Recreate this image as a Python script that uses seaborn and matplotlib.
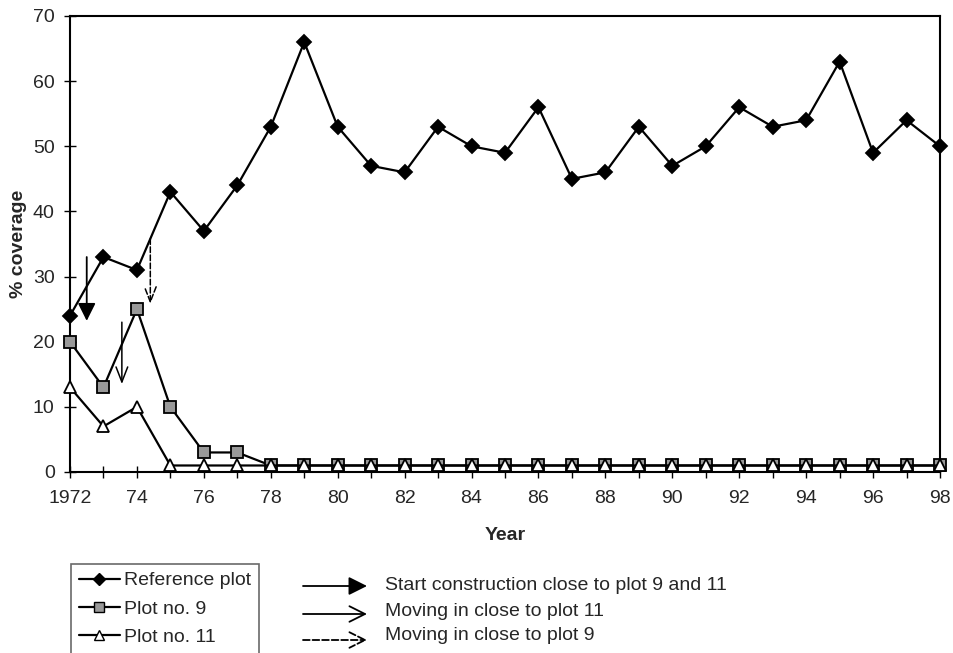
import matplotlib
matplotlib.use('Agg')
import matplotlib.pyplot as plt
from matplotlib.lines import Line2D
from matplotlib.patches import FancyArrowPatch
import seaborn as sns
import pandas as pd

sns.set_theme(style='ticks')
plt.rcParams['font.family'] = ['Liberation Sans', 'DejaVu Sans']

# ── Data ──────────────────────────────────────────────
years = list(range(1972, 1999))
reference_plot = [24, 33, 31, 43, 37, 44, 53, 66, 53, 47, 46, 53, 50, 49,
                  56, 45, 46, 53, 47, 50, 56, 53, 54, 63, 49, 54, 50]
plot_9 = [20, 13, 25, 10, 3, 3, 1, 1, 1, 1, 1, 1, 1, 1,
          1, 1, 1, 1, 1, 1, 1, 1, 1, 1, 1, 1, 1]
plot_11 = [13, 7, 10, 1, 1, 1, 1, 1, 1, 1, 1, 1, 1, 1,
           1, 1, 1, 1, 1, 1, 1, 1, 1, 1, 1, 1, 1]
x_labels = ['1972' if y == 1972 else (f'{y % 100:02d}' if y % 2 == 0 else '') for y in years]
y_ticks = [0, 10, 20, 30, 40, 50, 60, 70]

# events: (x start, y start, x end, y end)
start_construction = (1972.5, 33, 1972.5, 23.2)
move_plot11 = (1973.55, 23, 1973.55, 13.5)
move_plot9 = (1974.4, 35.8, 1974.4, 25.8)

df = pd.DataFrame({'Year': years, 'Reference plot': reference_plot,
                   'Plot no. 9': plot_9, 'Plot no. 11': plot_11})

FS = 14
W, H = 954, 653
fig = plt.figure(figsize=(W / 100, H / 100), dpi=100)
ax = fig.add_axes([70 / W, 1 - 472 / H, 870 / W, 456 / H])

common = dict(color='black', lw=1.6, markeredgecolor='black', markeredgewidth=1.3,
              clip_on=False)
sns.lineplot(data=df, x='Year', y='Plot no. 9', ax=ax, marker='s', markersize=8,
             markerfacecolor='#999999', zorder=3, **common)
sns.lineplot(data=df, x='Year', y='Plot no. 11', ax=ax, marker='^', markersize=8,
             markerfacecolor='white', zorder=4, **common)
sns.lineplot(data=df, x='Year', y='Reference plot', ax=ax, marker='D', markersize=7.5,
             markerfacecolor='black', zorder=5, **common)

ax.set_xlim(1972, 1998)
ax.set_ylim(0, 70)
ax.set_xticks(years)
ax.set_xticklabels(x_labels, fontsize=FS)
ax.set_yticks(y_ticks)
ax.set_yticklabels([str(v) for v in y_ticks], fontsize=FS)
ax.tick_params(axis='both', direction='inout', length=8, width=1, color='black')
ax.tick_params(axis='x', pad=9)
ax.tick_params(axis='y', pad=7)
for s in ax.spines.values():
    s.set_color('black')
    s.set_linewidth(1.5)
ax.set_xlabel('Year', fontsize=FS, fontweight='bold')
ax.set_ylabel('% coverage', fontsize=FS, fontweight='bold')
ax.xaxis.set_label_coords(0.5, -(527 - 472) / 456)
ax.yaxis.set_label_coords(-(70 - 27) / 870, 0.5)

# event arrows
x0, y0, x1, y1 = start_construction
ax.annotate('', xy=(x1, y1), xytext=(x0, y0),
            arrowprops=dict(arrowstyle='-|>,head_length=0.9,head_width=0.45',
                            color='black', lw=1.3, shrinkA=0, shrinkB=0))
x0, y0, x1, y1 = move_plot11
ax.annotate('', xy=(x1, y1), xytext=(x0, y0),
            arrowprops=dict(arrowstyle='->,head_length=0.9,head_width=0.35',
                            color='black', lw=1.1, shrinkA=0, shrinkB=0))
x0, y0, x1, y1 = move_plot9
ax.annotate('', xy=(x1, y1), xytext=(x0, y0),
            arrowprops=dict(arrowstyle='->,head_length=0.9,head_width=0.35',
                            color='black', lw=1.1, ls='--', shrinkA=0, shrinkB=0))

# series legend
handles = [
    Line2D([], [], color='black', lw=1.6, marker='D', markersize=6, markerfacecolor='black'),
    Line2D([], [], color='black', lw=1.6, marker='s', markersize=7,
           markerfacecolor='#999999', markeredgecolor='black'),
    Line2D([], [], color='black', lw=1.6, marker='^', markersize=7,
           markerfacecolor='white', markeredgecolor='black'),
]
leg = fig.legend(handles, ['Reference plot', 'Plot no. 9', 'Plot no. 11'],
                 loc='upper left', bbox_to_anchor=(71 / W, 1 - 564 / H),
                 fontsize=FS, frameon=True, fancybox=False, handlelength=2.1,
                 handletextpad=0.25, borderpad=0.4, labelspacing=0.55, borderaxespad=0)
leg.get_frame().set_edgecolor('#444444')
leg.get_frame().set_linewidth(1.2)

# arrow legend
rows = [
    (586, 586, 'Start construction close to plot 9 and 11', '-|>,head_length=0.8,head_width=0.4', '-'),
    (614, 612, 'Moving in close to plot 11', '->,head_length=0.8,head_width=0.4', '-'),
    (640, 636, 'Moving in close to plot 9', '->,head_length=0.8,head_width=0.4', '--'),
]
for ya, yt, txt, style, ls in rows:
    fig.add_artist(FancyArrowPatch(
        (303 / W, 1 - ya / H), (367 / W, 1 - ya / H), transform=fig.transFigure,
        arrowstyle=style, mutation_scale=14, color='black', lw=1.3, ls=ls,
        shrinkA=0, shrinkB=0))
    fig.text(385 / W, 1 - yt / H, txt, fontsize=FS, va='center', ha='left')

fig.savefig('out.png', dpi=100)
